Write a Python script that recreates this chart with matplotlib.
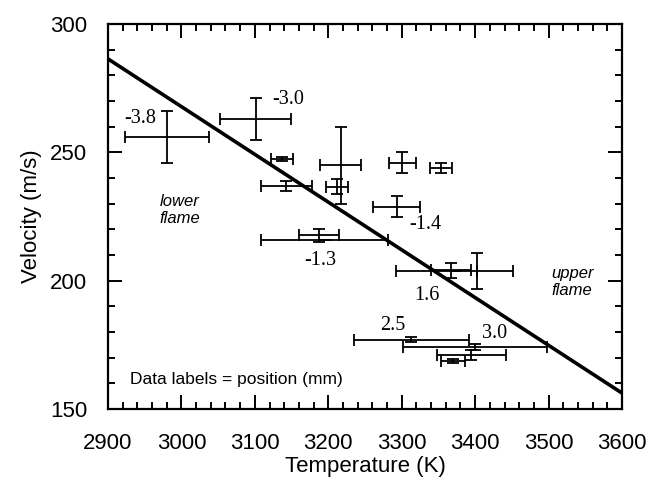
import matplotlib.pyplot as plt
from matplotlib.ticker import MultipleLocator

# measured flame points: temperature (K), velocity (m/s) and their uncertainties
temp = [2980, 3101, 3137, 3143, 3217, 3212, 3301, 3354, 3293, 3187, 3195,
        3367, 3402, 3372, 3313, 3400, 3395, 3370]
temp_err = [57, 48, 15, 35, 28, 15, 18, 15, 32, 27.5, 87,
            27, 0, 80, 78, 98, 47, 16.5]
vel = [256, 263, 247.3, 237, 245, 236.6, 246, 244, 228.8, 217.6, 215.8,
       204, 203.8, 203.6, 177, 174, 171, 168.8]
vel_err = [10, 8, 0.7, 2, 15, 3, 4, 2, 4, 2.7, 0,
           3, 7, 0, 1, 1.2, 2, 0.8]

# position labels (mm) and where they sit in data coordinates
pos_labels = ["-3.8", "-3.0", "-1.4", "-1.3", "1.6", "2.5", "3.0"]
pos_x = [2944, 3146, 3332, 3189, 3334, 3288, 3427]
pos_y = [263.2, 270.4, 221.7, 208, 194.4, 182.7, 179.5]

# linear fit drawn across the whole range
fit_t = [2900, 3600]
fit_v = [286.4, 156.2]

fig = plt.figure(figsize=(6.49, 4.84), dpi=100)
ax = fig.add_axes([108 / 649, 1 - 409 / 484, 514 / 649, 385 / 484])

ax.errorbar(temp, vel, xerr=temp_err, yerr=vel_err, fmt="none",
            ecolor="black", elinewidth=1.3, capsize=4, capthick=1.3)
ax.plot(fit_t, fit_v, color="black", linewidth=2.6, solid_capstyle="butt")

serif = ["Liberation Serif", "DejaVu Serif"]
sans = ["Liberation Sans", "DejaVu Sans"]
for s, x, y in zip(pos_labels, pos_x, pos_y):
    ax.text(x, y, s, ha="center", va="center", fontsize=14.5, family=serif)

ax.text(2998, 227.5, "lower\nflame", ha="center", va="center",
        fontsize=12, style="italic", family=sans, linespacing=1.2)
ax.text(3532, 199.5, "upper\nflame", ha="center", va="center",
        fontsize=12, style="italic", family=sans, linespacing=1.2)
ax.text(2930, 161.6, "Data labels = position (mm)", ha="left", va="center",
        fontsize=12.5, family=sans)

ax.set_xlim(2900, 3600)
ax.set_ylim(150, 300)
ax.xaxis.set_major_locator(MultipleLocator(100))
ax.xaxis.set_minor_locator(MultipleLocator(20))
ax.yaxis.set_major_locator(MultipleLocator(50))
ax.yaxis.set_minor_locator(MultipleLocator(10))
ax.tick_params(which="both", direction="in", top=True, right=True,
               width=1.4, labelsize=16)
ax.tick_params(which="major", length=10)
ax.tick_params(axis="x", which="major", pad=17)
ax.tick_params(axis="y", which="major", pad=15)
ax.tick_params(which="minor", length=5)
for lab in ax.get_xticklabels() + ax.get_yticklabels():
    lab.set_family(sans)
for sp in ax.spines.values():
    sp.set_linewidth(1.6)

ax.set_xlabel("Temperature (K)", fontsize=16, family=sans, labelpad=2)
ax.set_ylabel("Velocity (m/s)", fontsize=16, family=sans, labelpad=6)

fig.savefig("out.png", dpi=100)
